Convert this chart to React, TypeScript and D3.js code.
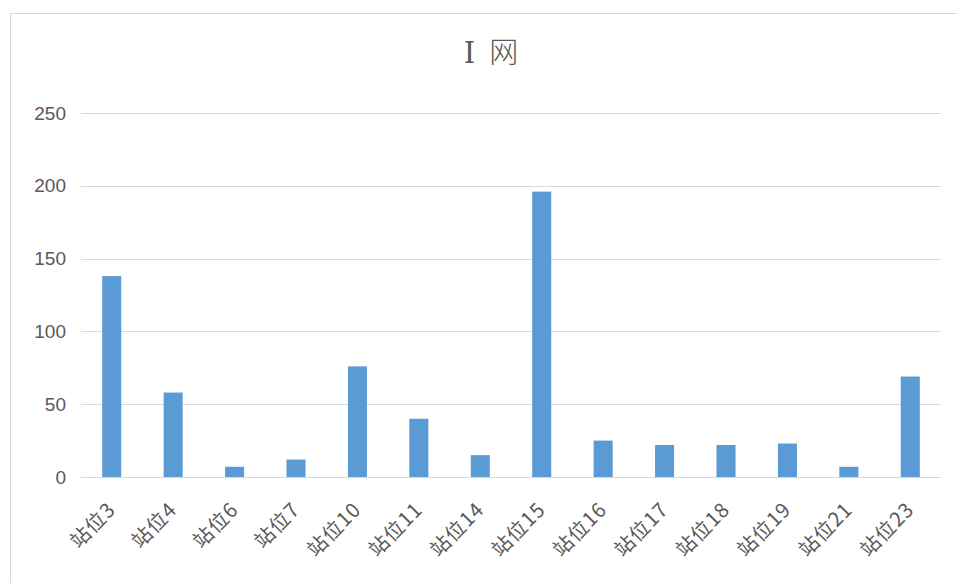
import React from "react";
import * as d3 from "d3";

const categories = ["站位3", "站位4", "站位6", "站位7", "站位10", "站位11", "站位14", "站位15", "站位16", "站位17", "站位18", "站位19", "站位21", "站位23"];
const values = [138, 58, 7, 12, 76, 40, 15, 196, 25, 22, 22, 23, 7, 69];
const yTicks = [0, 50, 100, 150, 200, 250];
const title = "Ⅰ网";

export default function App() {
  const W = 957, H = 583;
  const left = 81, right = 941, top = 113, bottom = 477;
  const x = d3.scaleBand<string>().domain(categories).range([left, right]).paddingInner(0.69).paddingOuter(0.345);
  const y = d3.scaleLinear().domain([0, 250]).range([bottom, top]);
  const font = "'Liberation Sans', Arial, sans-serif";
  const cjk = "'Noto Sans CJK SC', sans-serif";
  return (
    <svg width={W} height={H} style={{ position: "absolute", left: 0, top: 0 }}>
      <rect x={0} y={0} width={W} height={H} fill="#fff" />
      <rect x={10.5} y={13.5} width={W + 10} height={H + 10} fill="#fff" stroke="#d9d9d9" strokeWidth={1} />
      <text x={491} y={63} textAnchor="middle" fontSize={29} fill="#595959">
        <tspan fontFamily="'DejaVu Serif', 'Liberation Serif', serif">{title.slice(0, 1)}</tspan>
        <tspan dx={14} fontFamily={cjk} fontWeight={300}>{title.slice(1)}</tspan>
      </text>
      {yTicks.map(t => (
        <g key={t}>
          <line x1={left} x2={right} y1={Math.round(y(t)) + 0.5} y2={Math.round(y(t)) + 0.5} stroke="#d9d9d9" strokeWidth={1} />
          <text x={66} y={y(t)} dy="0.35em" textAnchor="end" fontFamily={font} fontSize={19} fill="#595959">{t}</text>
        </g>
      ))}
      {categories.map((c, i) => (
        <rect key={c} x={x(c)} y={y(values[i])} width={x.bandwidth()} height={bottom - y(values[i])} fill="#5B9BD5" />
      ))}
      {categories.map(c => {
        const cx = (x(c) as number) + x.bandwidth() / 2;
        const ax = cx + 5, ay = 511;
        return (
          <text key={c} x={ax} y={ay} textAnchor="end" fontFamily={cjk} fontSize={20} letterSpacing={1} fill="#595959" transform={`rotate(-45 ${ax} ${ay})`}>{c}</text>
        );
      })}
    </svg>
  );
}
